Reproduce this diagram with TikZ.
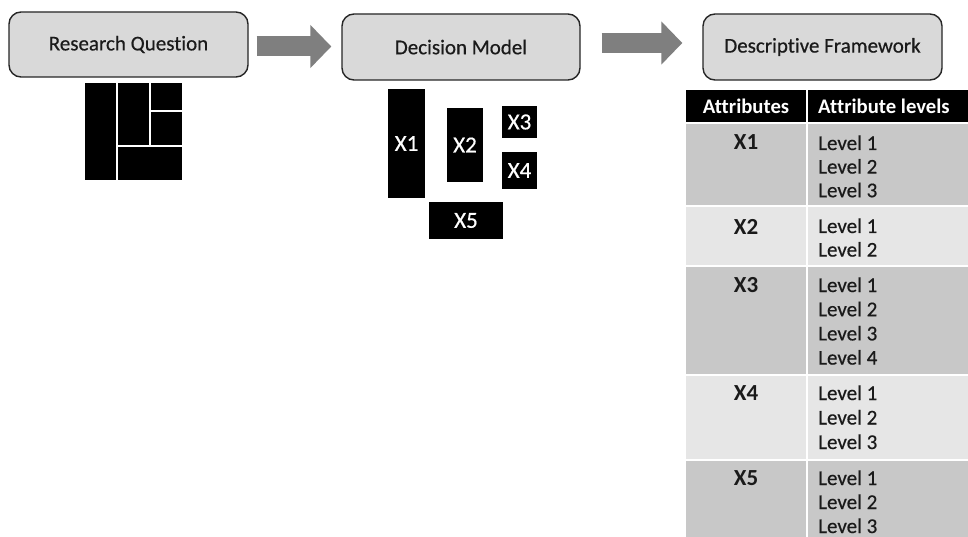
\documentclass[tikz,border=0pt]{standalone}
\usepackage{fontspec}
\setmainfont{Carlito}[Ligatures=CommonOff]
\newfontfamily\medfont{Carlito}[Ligatures=CommonOff, FakeBold=0.5]
\usetikzlibrary{arrows.meta}
\definecolor{boxfill}{HTML}{D9D9D9}
\definecolor{boxline}{HTML}{262626}
\definecolor{rowdark}{HTML}{C8C8C8}
\definecolor{rowlight}{HTML}{E6E6E6}
\definecolor{arrowgray}{HTML}{7F7F7F}
\definecolor{txt}{HTML}{1A1A1A}
\tikzset{
  stagebox/.style={draw=boxline, line width=1.4pt, fill=boxfill, rounded corners=12pt,
    inner sep=0pt, text=txt, font=\medfont\fontsize{21}{24}\selectfont},
  flow/.style={draw=arrowgray, line width=20pt, -{Triangle[width=42pt,length=21pt]}},
  mosaic/.style={fill=black},
  blk/.style={fill=black, text=white, inner sep=0pt, font=\medfont\fontsize{23}{24}\selectfont},
  hdr/.style={text=white, font=\bfseries\fontsize{20.7}{24}\selectfont, inner sep=0pt},
  attr/.style={text=txt, font=\bfseries\fontsize{23}{24}\selectfont, inner sep=0pt, anchor=base},
  lvl/.style={text=txt, font=\medfont\fontsize{21}{24}\selectfont, inner sep=0pt, anchor=base west},
}
\begin{document}
\begin{tikzpicture}[x=1pt,y=-1pt]
\useasboundingbox[fill=white] (0,0) rectangle (968,537);

% stage boxes
\node[stagebox, minimum width=239pt, minimum height=65pt] (rq) at (128.5,44.5) {Research Question};
\node[stagebox, minimum width=238pt, minimum height=66pt] (dm) at (461,47) {Decision Model};
\node[stagebox, minimum width=239pt, minimum height=66pt] (df) at (822.5,47) {Descriptive Framework};

% arrows
\draw[flow] ([xshift=8pt,yshift=-2pt]rq.east) -- ([xshift=-10pt,yshift=-2pt]rq.east -| dm.west);
\draw[flow] ([xshift=21pt,yshift=4pt]dm.east) -- ([xshift=-20pt,yshift=4pt]dm.east -| df.west);

% research question mosaic
\fill[mosaic] (85,83) rectangle (116,180);
\fill[mosaic] (118,83) rectangle (149,145);
\fill[mosaic] (151,83) rectangle (182,110);
\fill[mosaic] (151,112) rectangle (182,145);
\fill[mosaic] (118,147) rectangle (182,180);

% decision model blocks
\node[blk, minimum width=37pt, minimum height=109pt] (b1) at (406.5,143.5) {X1};
\node[blk, minimum width=36pt, minimum height=74pt] (b2) at (465,145) {X2};
\node[blk, minimum width=35pt, minimum height=32pt] (b3) at (519.5,122) {X3};
\node[blk, minimum width=35pt, minimum height=37pt] (b4) at (519.5,170.5) {X4};
\node[blk, minimum width=74pt, minimum height=37pt] (b5) at (466,220.5) {X5};

% table header
\fill[black] (686,90) rectangle (806,122);
\fill[black] (808,90) rectangle (968,122);
\node[hdr] (h1) at (746,106) {Attributes};
\node[hdr, anchor=west] (h2) at (818,106) {Attribute levels};

% table rows
\fill[rowdark]  (686,124) rectangle (806,205);
\fill[rowdark]  (808,124) rectangle (968,205);
\fill[rowlight] (686,207) rectangle (806,265);
\fill[rowlight] (808,207) rectangle (968,265);
\fill[rowdark]  (686,267) rectangle (806,374);
\fill[rowdark]  (808,267) rectangle (968,374);
\fill[rowlight] (686,376) rectangle (806,459);
\fill[rowlight] (808,376) rectangle (968,459);
\fill[rowdark]  (686,461) rectangle (806,537);
\fill[rowdark]  (808,461) rectangle (968,537);

% row texts
\node[attr] (a1) at (746,150) {X1};
\foreach \i in {1,2,3} \node[lvl] (l1\i) at (818,{150+23.6*(\i-1)}) {Level \i};
\node[attr] (a2) at (746,234) {X2};
\foreach \i in {1,2} \node[lvl] (l2\i) at (818,{233+23.6*(\i-1)}) {Level \i};
\node[attr] (a3) at (746,292) {X3};
\foreach \i in {1,2,3,4} \node[lvl] (l3\i) at (818,{292+24.2*(\i-1)}) {Level \i};
\node[attr] (a4) at (746,400) {X4};
\foreach \i in {1,2,3} \node[lvl] (l4\i) at (818,{400+24.5*(\i-1)}) {Level \i};
\node[attr] (a5) at (746,485) {X5};
\foreach \i in {1,2,3} \node[lvl] (l5\i) at (818,{485+24*(\i-1)}) {Level \i};
\end{tikzpicture}
\end{document}
